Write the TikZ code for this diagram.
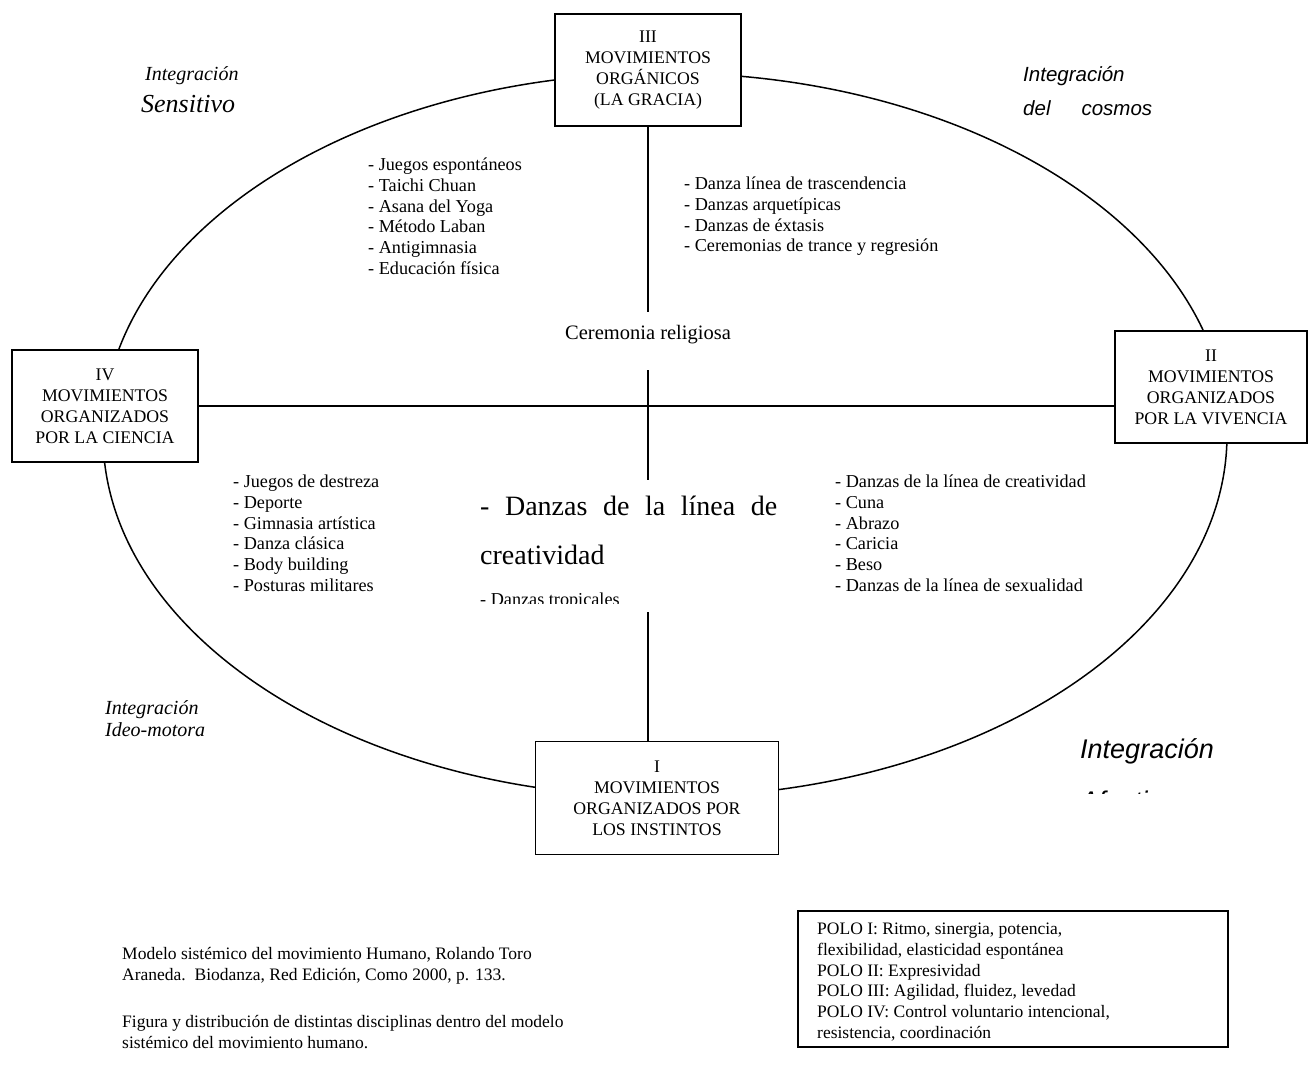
\documentclass[tikz,border=0pt]{standalone}
\usepackage{fontspec}
\setmainfont{Liberation Serif}
\setsansfont{Liberation Sans}
\usepackage{tikz}
\usetikzlibrary{positioning}

\begin{document}
\begin{tikzpicture}[x=1pt, y=-1pt,
    polo/.style={draw, line width=1.8pt, fill=white, align=center, inner sep=0pt,
        font=\fontsize{17.75}{21}\selectfont},
    lista/.style={anchor=north west, align=left, inner sep=0pt,
        font=\fontsize{18.2}{20.7}\selectfont},
    integ/.style={anchor=base west, align=left, inner sep=0pt,
        font=\fontsize{20}{22}\selectfont\itshape},
    integsans/.style={anchor=base west, align=left, inner sep=0pt,
        font=\fontsize{20.5}{34}\selectfont\sffamily\itshape}
    ]
            \useasboundingbox (0,0) rectangle (1309,1074);

            \draw[line width=1.5pt] (665,435) ellipse [x radius=562pt, y radius=362pt];

            % the four poles
            \node[polo, minimum width=186pt, minimum height=112pt] (III) at (648,70)
                {III\\MOVIMIENTOS\\ORGÁNICOS\\(LA GRACIA)};
            \node[polo, minimum width=186pt, minimum height=112pt] (IV) at (105,406)
                {IV\\MOVIMIENTOS\\ORGANIZADOS\\POR LA CIENCIA};
            \node[polo, minimum width=192pt, minimum height=112pt] (II) at (1211,387)
                {II\\MOVIMIENTOS\\ORGANIZADOS\\POR LA VIVENCIA};
            \node[polo, minimum width=243pt, minimum height=113pt] (I) at (657,798)
                {I\\MOVIMIENTOS\\ORGANIZADOS POR\\LOS INSTINTOS};

            \node[anchor=base, inner xsep=0pt, inner ysep=13pt, text depth=18pt,
                font=\fontsize{20.5}{24}\selectfont] (cer) at (648,339) {Ceremonia religiosa};
            \node[anchor=north west, align=left, inner xsep=0pt, inner ysep=16pt,
                font=\fontsize{28}{49}\selectfont] (dz) at (480,480)
                {\makebox[297pt][s]{- Danzas de la línea de}\\creatividad};
            \coordinate (dzbot) at (648,612);

            % axes
            \draw[line width=1.5pt] (IV.east) -- (IV.east -| II.west);
            \draw[line width=1.5pt] (III.south) -- (cer.north);
            \draw[line width=1.5pt] (cer.south) -- (cer.south |- dz.north);
            \draw[line width=1.5pt] (dzbot) -- (dzbot |- I.north);

            \begin{scope}
                \clip (470,570) rectangle (800,603);
                \node[anchor=base west, inner sep=0pt, font=\fontsize{18.2}{21}\selectfont]
                    (trop) at (480,605) {- Danzas tropicales};
            \end{scope}

            % disciplines
            \node[lista] (tl) at (368,158) {- Juegos espontáneos\\- Taichi Chuan\\- Asana del Yoga\\
                - Método Laban\\- Antigimnasia\\- Educación física};
            \node[lista] (tr) at (684,177) {- Danza línea de trascendencia\\- Danzas arquetípicas\\
                - Danzas de éxtasis\\- Ceremonias de trance y regresión};
            \node[lista] (bl) at (233,475) {- Juegos de destreza\\- Deporte\\- Gimnasia artística\\
                - Danza clásica\\- Body building\\- Posturas militares};
            \node[lista] (br) at (835,475) {- Danzas de la línea de creatividad\\- Cuna\\- Abrazo\\
                - Caricia\\- Beso\\- Danzas de la línea de sexualidad};

            % integrations
            \node[integ] (isen) at (145,80) {Integración};
            \node[integ, font=\fontsize{26}{28}\selectfont\itshape] (isen2) at (141,112) {Sensitivo};
            \node[integsans] (icos) at (1023,115) {Integración\\\makebox[129pt][s]{del cosmos}};
            \node[integ] (iideo) at (105,736) {Integración\\Ideo-motora};
            \node[integsans, font=\fontsize{27}{49}\selectfont\sffamily\itshape] (iafe) at (1080,758) {Integración};
            \begin{scope}
                \clip (1070,770) rectangle (1240,793);
                \node[integsans, font=\fontsize{27}{49}\selectfont\sffamily\itshape] (iafe2) at (1080,810) {Afectivo};
            \end{scope}

            % reference and legend
            \node[lista, font=\fontsize{17.5}{20.7}\selectfont] (cap1) at (122,947)
                {Modelo sistémico del movimiento Humano, Rolando Toro\\
                Araneda.\ \ Biodanza, Red Edición, Como 2000, p. 133.};
            \node[lista, font=\fontsize{17.5}{20.7}\selectfont] (cap2) at (122,1015)
                {Figura y distribución de distintas disciplinas dentro del modelo\\
                sistémico del movimiento humano.};
            \node[draw, line width=1.5pt, anchor=north west, minimum width=430pt, minimum height=136pt]
                (leg) at (797,910) {};
            \node[lista, font=\fontsize{17.5}{20.7}\selectfont, below right=13pt and 20pt of leg.north west] (legtx)
                {POLO I: Ritmo, sinergia, potencia,\\flexibilidad, elasticidad espontánea\\
                POLO II: Expresividad\\POLO III: Agilidad, fluidez, levedad\\
                POLO IV: Control voluntario intencional,\\resistencia, coordinación};
        \end{tikzpicture}
\end{document}
